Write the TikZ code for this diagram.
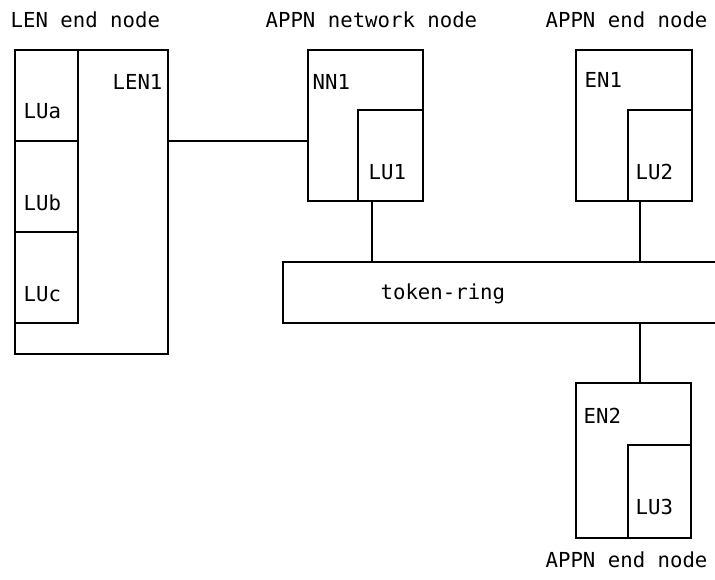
\documentclass[tikz,border=0pt]{standalone}
\usepackage{fontspec}
\setmonofont{DejaVu Sans Mono}
\usetikzlibrary{fit}
\tikzset{
  box/.style={draw, rectangle, inner sep=0pt, outer sep=0pt},
  lbl/.style={inner sep=0pt, anchor=base west, font=\ttfamily\fontsize{15.5}{18}\selectfont}
}
\begin{document}
\begin{tikzpicture}[x=0.75pt, y=-0.75pt, line width=1pt]
\useasboundingbox (0,0) rectangle (715,580);

% LEN end node
\node (len) [box, fit={(15,50) (168,354)}] {};
\node (lua) [box, fit={(15,50) (78,141)}] {};
\node (lub) [box, fit={(15,141) (78,232)}] {};
\node (luc) [box, fit={(15,232) (78,323)}] {};

% network node and end nodes
\node (nn1) [box, fit={(308,50) (423,201)}] {};
\node (lu1) [box, fit={(358,110) (423,201)}] {};
\node (en1) [box, fit={(576,50) (692,201)}] {};
\node (lu2) [box, fit={(628,110) (692,201)}] {};
\node (en2) [box, fit={(576,383) (691,538)}] {};
\node (lu3) [box, fit={(628,445) (691,538)}] {};

% token-ring, open to the right
\node (ring) [fit={(283,262) (715,323)}, inner sep=0pt, outer sep=0pt] {};
\draw (ring.north east) -- (ring.north west) -- (ring.south west) -- (ring.south east);

% links
\coordinate (tap1) at ([xshift=10.5pt]lu1.south west);
\coordinate (tap2) at ([xshift=9pt]lu2.south west);
\draw (len.east |- lua.south) -- (nn1.west |- lua.south);
\draw (tap1) -- (tap1 |- ring.north);
\draw (tap2) -- (tap2 |- ring.north);
\draw (tap2 |- ring.south) -- (tap2 |- en2.north);

% texts
\node[lbl] (tlen) at (10,28) {LEN end node};
\node[lbl] (tnn) at (265,28) {APPN network node};
\node[lbl] (ten1) at (545,28) {APPN end node};
\node[lbl] (ten2) at (545,568) {APPN end node};
\node[lbl] (nlen1) at (112,90) {LEN1};
\node[lbl] (nlua) at (23,119) {LUa};
\node[lbl] (nlub) at (23,211) {LUb};
\node[lbl] (nluc) at (23,302) {LUc};
\node[lbl] (nnn1) at (312,90) {NN1};
\node[lbl] (nlu1) at (368,180) {LU1};
\node[lbl] (nen1) at (584,88) {EN1};
\node[lbl] (nlu2) at (635,180) {LU2};
\node[lbl] (nring) at (380,300) {token-ring};
\node[lbl] (nen2) at (583,424) {EN2};
\node[lbl] (nlu3) at (635,515) {LU3};
\end{tikzpicture}
\end{document}
